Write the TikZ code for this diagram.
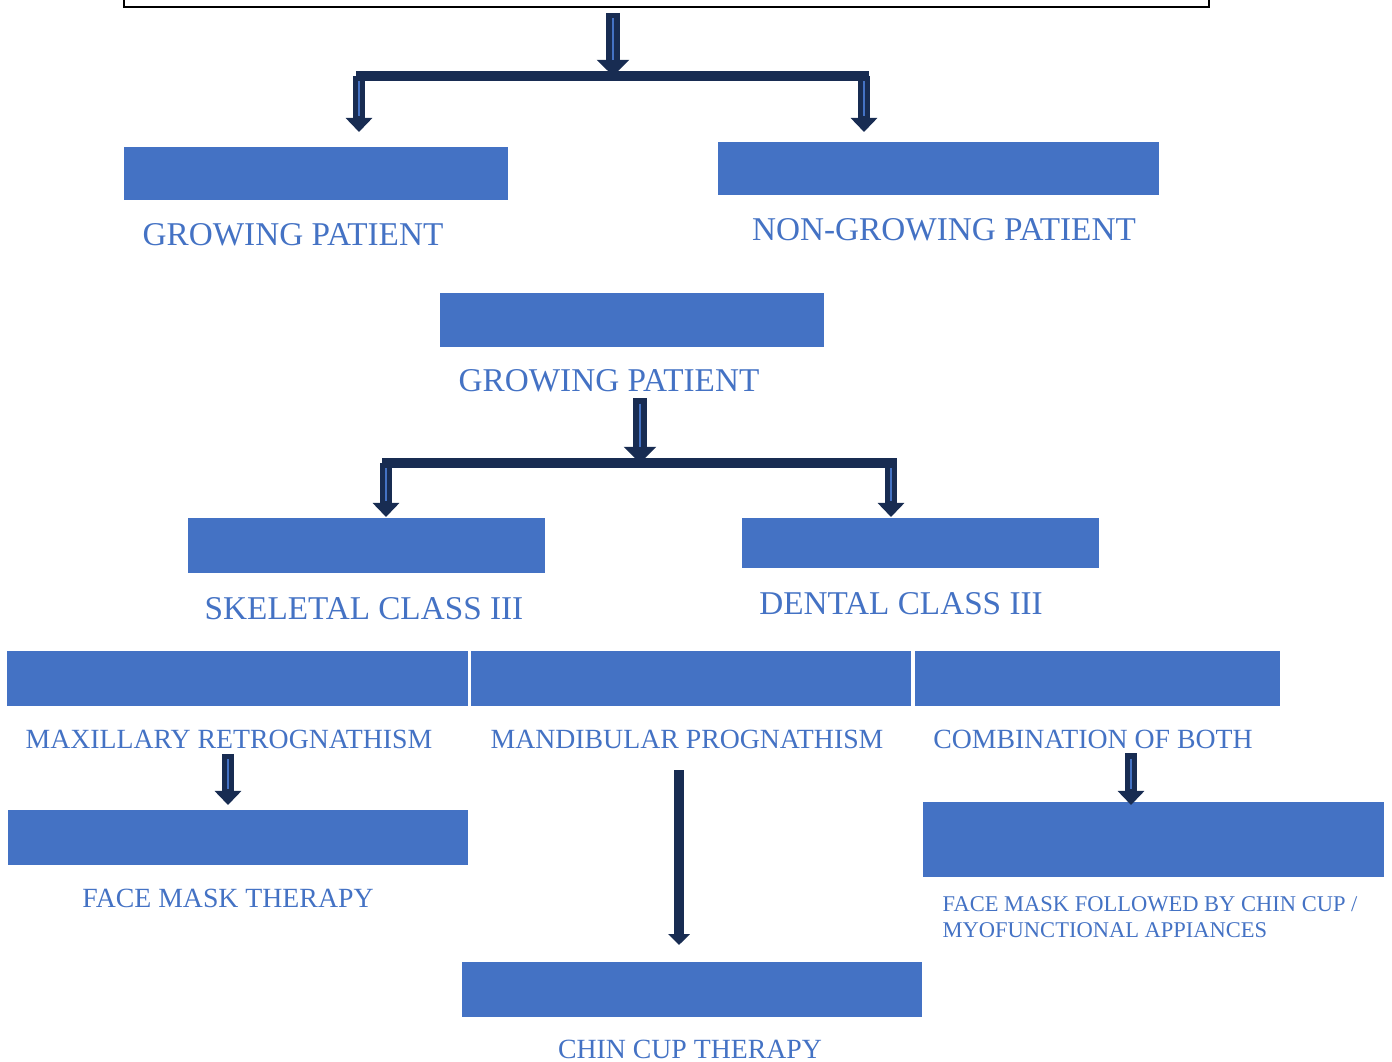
\documentclass[tikz,border=0pt]{standalone}
\usepackage{fontspec}
\setmainfont{Liberation Serif}
\usetikzlibrary{arrows.meta}
\definecolor{boxblue}{HTML}{4472C4}
\definecolor{navy}{HTML}{182C52}
\tikzstyle{box} = [rectangle, fill=boxblue, inner sep=0pt]
\tikzstyle{lbl} = [text=boxblue, inner sep=0pt, font=\fontsize{9.45}{11}\selectfont]
\tikzstyle{lblsm} = [text=boxblue, inner sep=0pt, font=\fontsize{7.9}{9}\selectfont]
\tikzstyle{lbltn} = [text=boxblue, inner sep=0pt, align=left, font=\fontsize{6.4}{7.4}\selectfont]
\tikzstyle{bar} = [navy, line width=2.6pt]
\tikzstyle{arrow} = [navy, line width=3.4pt, -{Triangle[width=7.4pt,length=4pt]},
	postaction={draw=boxblue, line width=0.8pt, -, shorten >=4.6pt, shorten <=1.5pt}]
\tikzstyle{bigarrow} = [arrow, line width=4pt, -{Triangle[width=9pt,length=4.6pt]}]
\tikzstyle{thinarrow} = [navy, line width=2.8pt, -{Triangle[width=6pt,length=3.1pt]}]

\begin{document}
\begin{tikzpicture}[x=0.01cm, y=-0.01cm]
	\useasboundingbox (0,0) rectangle (1392,1061);

	% title box, cut off at the top
	\node[draw, line width=0.6pt, inner sep=0pt, minimum width=10.85cm, minimum height=0.3cm] (top) at (666.5,-8) {};

	% boxes
	\node[box, minimum width=3.84cm, minimum height=0.53cm] (grow) at (316,173.5) {};
	\node[box, minimum width=4.41cm, minimum height=0.53cm] (nongrow) at (938.5,168.5) {};
	\node[box, minimum width=3.84cm, minimum height=0.54cm] (grow2) at (632,320) {};
	\node[box, minimum width=3.57cm, minimum height=0.55cm] (skel) at (366.5,545.5) {};
	\node[box, minimum width=3.57cm, minimum height=0.50cm] (dent) at (920.5,543) {};
	\node[box, minimum width=4.61cm, minimum height=0.55cm] (maxi) at (237.5,678.5) {};
	\node[box, minimum width=4.40cm, minimum height=0.55cm] (mand) at (691,678.5) {};
	\node[box, minimum width=3.65cm, minimum height=0.55cm] (comb) at (1097.5,678.5) {};
	\node[box, minimum width=4.60cm, minimum height=0.55cm] (fmask) at (238,837.5) {};
	\node[box, minimum width=4.60cm, minimum height=0.55cm] (chin) at (692,989.5) {};
	\node[box, minimum width=4.61cm, minimum height=0.75cm] (fmcc) at (1153.5,839.5) {};

	% labels
	\node[lbl] (growlbl) at (293,235) {GROWING PATIENT};
	\node[lbl] (nongrowlbl) at (944,230) {NON-GROWING PATIENT};
	\node[lbl] (grow2lbl) at (609,381) {GROWING PATIENT};
	\node[lbl] (skellbl) at (364,609) {SKELETAL CLASS III};
	\node[lbl] (dentlbl) at (901,604) {DENTAL CLASS III};
	\node[lblsm] (maxilbl) at (229,739) {MAXILLARY RETROGNATHISM};
	\node[lblsm] (mandlbl) at (687,739) {MANDIBULAR PROGNATHISM};
	\node[lblsm] (comblbl) at (1093,739) {COMBINATION OF BOTH};
	\node[lblsm] (fmasklbl) at (228,898) {FACE MASK THERAPY};
	\node[lblsm] (chinlbl) at (690,1049) {CHIN CUP THERAPY};
	\node[lbltn, anchor=west] (fmcclbl) at (942,917) {FACE MASK FOLLOWED BY CHIN CUP /\\MYOFUNCTIONAL APPIANCES};

	% first split
	\coordinate (s1) at (613,76);
	\coordinate (s1l) at (356,76);
	\coordinate (s1r) at (869,76);
	\coordinate (e1l) at (359,132);
	\coordinate (e1r) at (864,132);
	\draw[bar] (s1l) -- (s1r);
	\draw[bigarrow] ([yshift=-1.4pt]top.south -| s1) -- (s1);
	\draw[arrow] (e1l |- s1) -- (e1l);
	\draw[arrow] (e1r |- s1) -- (e1r);

	% second split
	\coordinate (s2) at (640,463);
	\coordinate (s2l) at (382,463);
	\coordinate (s2r) at (897,463);
	\coordinate (e2l) at (386,517);
	\coordinate (e2r) at (891,517);
	\draw[bar] (s2l) -- (s2r);
	\draw[bigarrow] ([yshift=-1.5pt]grow2lbl.south -| s2) -- (s2);
	\draw[arrow] (e2l |- s2) -- (e2l);
	\draw[arrow] (e2r |- s2) -- (e2r);

	% treatments
	\coordinate (fmtip) at (228,805);
	\coordinate (fmcctip) at (1131,805);
	\coordinate (chintip) at (679,945);
	\draw[arrow] ([yshift=-1.4pt]maxilbl.south -| fmtip) -- (fmtip);
	\draw[arrow] ([yshift=-1.2pt]comblbl.south -| fmcctip) -- (fmcctip);
	\draw[thinarrow, shorten <=6pt] (mandlbl.south -| chintip) -- (chintip);

\end{tikzpicture}
\end{document}
